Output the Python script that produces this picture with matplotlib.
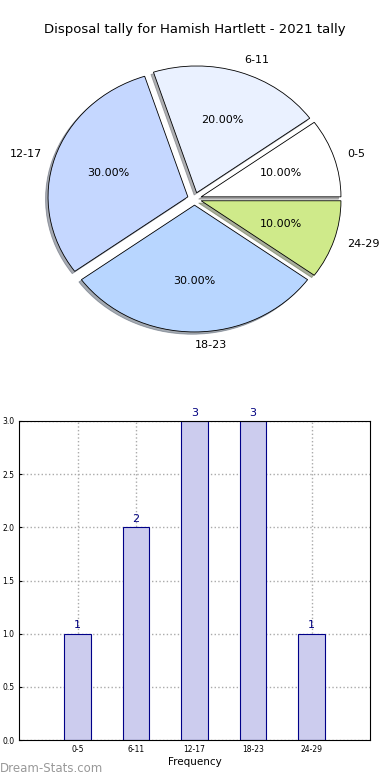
import matplotlib
matplotlib.use("Agg")
import matplotlib.pyplot as plt
import numpy as np

categories = ["0-5", "6-11", "12-17", "18-23", "24-29"]
counts = [1, 2, 3, 3, 1]
pie_colors = ["#ffffff", "#eaf1ff", "#c5d7ff", "#b8d6ff", "#cfea8a"]

W, H = 390, 780
fig = plt.figure(figsize=(3.9, 7.8), dpi=100)

# Pie (slightly elliptical, as in the reference)
ax1 = fig.add_axes([19.75 / W, 1 - 357.3 / H, 349.5 / W, 317 / H])
wedges, texts, autotexts = ax1.pie(
    counts, labels=categories, colors=pie_colors, autopct="%.2f%%",
    explode=[0.05] * 5, shadow={"ox": -0.013, "oy": -0.013, "shade": 0.6},
    startangle=0, counterclock=True,
    labeldistance=1.1, pctdistance=0.6,
    wedgeprops=dict(edgecolor="black", linewidth=0.6),
    textprops=dict(fontsize=8))
ax1.set_aspect("auto")
ax1.set_xlim(-1.25, 1.25)
ax1.set_ylim(-1.25, 1.25)
fig.text(0.5, 1 - 30 / H, "Disposal tally for Hamish Hartlett - 2021 tally",
         fontsize=9.5, ha="center", va="center")

# Bars
ax2 = fig.add_axes([19 / W, 1 - 740 / H, 351 / W, 319 / H])
x = np.arange(len(categories))
ax2.bar(x, counts, width=0.46, color="#ccccee", edgecolor="#000088", linewidth=0.8, zorder=2)
for xi, c in zip(x, counts):
    ax2.text(xi, c + 0.03, str(c), ha="center", va="bottom", color="#000080", fontsize=8)
ax2.set_xlim(-1, 5)
ax2.set_ylim(0, 3)
ax2.set_xticks(x)
ax2.set_xticklabels(categories)
ax2.set_yticks(np.arange(0, 3.01, 0.5))
ax2.tick_params(labelsize=5.5, length=2, direction="in")
ax2.grid(True, linestyle=":", color="#aaaaaa", linewidth=1.0, zorder=0)
ax2.set_axisbelow(True)
ax2.set_xlabel("Frequency", fontsize=7.5, labelpad=2)

fig.text(0.0, 0.006, "Dream-Stats.com", color="#999999", fontsize=8.5, ha="left", va="bottom")

fig.savefig("out.png", dpi=100)
